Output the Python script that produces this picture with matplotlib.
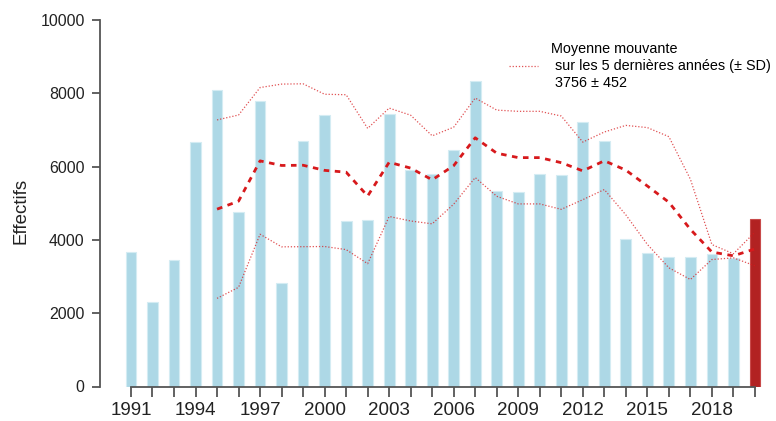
import numpy as np
import pandas as pd
import matplotlib
matplotlib.use("Agg")
import matplotlib.pyplot as plt

plt.rcParams['font.family'] = ['Liberation Sans', 'DejaVu Sans']

# effectifs annuels
years = list(range(1991, 2021))
counts = [3670, 2305, 3450, 6670, 8100, 4760, 7800, 2825, 6700, 7400,
          4515, 4545, 7430, 5905, 5800, 6450, 8345, 5330, 5300, 5800,
          5760, 7225, 6710, 4025, 3635, 3545, 3525, 3615, 3510, 4570]
year_labels = [str(y) if (y - 1991) % 3 == 0 else "" for y in years]
legend_label = "Moyenne mouvante\n sur les 5 dernières années (± SD)\n 3756 ± 452"

s = pd.Series(counts, index=years)
roll_mean = s.rolling(5).mean()
roll_sd = s.rolling(5).std()

fig = plt.figure(figsize=(7.76, 4.21), dpi=100)
ax = fig.add_axes([100 / 776, 34.5 / 421, 676 / 776, 366.5 / 421])

bar_colors = ["#add8e6"] * (len(years) - 1) + ["#b22222"]
edge_colors = ["#d4ecf3"] * (len(years) - 1) + ["#c84a4a"]
ax.bar(years, counts, width=0.5, color=bar_colors, edgecolor=edge_colors, linewidth=0.8, zorder=2)

red = "#d7191c"
ax.plot(years, roll_mean.values, color=red, lw=2.0, linestyle=(0, (2, 2)), zorder=3)
ax.plot(years, (roll_mean + roll_sd).values, color=red, lw=0.9, alpha=0.75, linestyle=(0, (1, 1.5)), zorder=3)
ax.plot(years, (roll_mean - roll_sd).values, color=red, lw=0.9, alpha=0.75, linestyle=(0, (1, 1.5)), zorder=3,
        label=legend_label)

ax.set_xlim(1989.56, 2020.98)
ax.set_ylim(0, 10000)

for side in ["top", "right"]:
    ax.spines[side].set_visible(False)
ax.spines["left"].set_bounds(0, 10000)
ax.spines["bottom"].set_bounds(1991, 2020)
for side in ["left", "bottom"]:
    ax.spines[side].set_color("#555555")
    ax.spines[side].set_linewidth(1.3)

ax.set_yticks([0, 2000, 4000, 6000, 8000, 10000])
ax.set_xticks(years)
ax.set_xticklabels(year_labels)
ax.tick_params(axis="y", length=6, width=1.3, color="#555555", labelsize=11.5, labelcolor="#222222", pad=5)
ax.tick_params(axis="x", length=7, width=1.3, color="#555555", labelsize=13.5, labelcolor="#222222", pad=4)

ax.set_ylabel("Effectifs", fontsize=13.5, color="#222222")
ax.yaxis.set_label_coords(-0.1036, 0.479)

leg = ax.legend(loc="upper left", bbox_to_anchor=(396 / 676, 0.976), frameon=False, fontsize=10.4,
                handlelength=2.0, handletextpad=0.9)
leg.get_texts()[0].set_linespacing(1.28)

fig.savefig("out.png", dpi=100)
